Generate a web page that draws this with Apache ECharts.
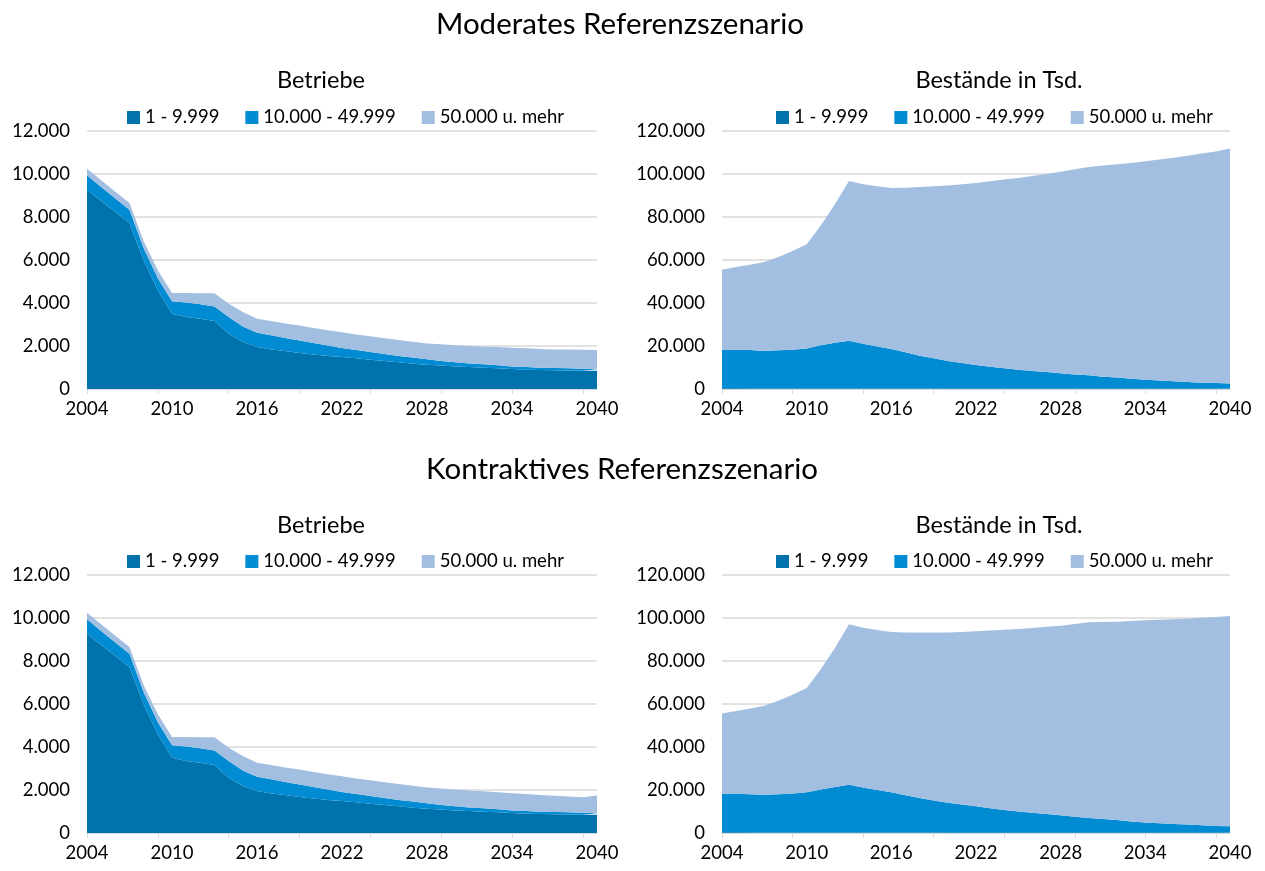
<!DOCTYPE html>
<html>
<head>
<meta charset="utf-8">
<title>Referenzszenarien</title>
<script src="https://cdn.jsdelivr.net/npm/echarts@6/dist/echarts.min.js"></script>
<style>
  html, body { margin: 0; padding: 0; background: #fff; }
  #chart { width: 1265px; height: 871px; }
</style>
</head>
<body>
<div id="chart"></div>
<script>
// Jahre 2004 - 2040
var years = [];
for (var y = 2004; y <= 2040; y++) years.push(String(y));

var seriesNames = ['1 - 9.999', '10.000 - 49.999', '50.000 u. mehr'];
var yTicksBetriebe = [0, 2000, 4000, 6000, 8000, 10000, 12000];
var yTicksBestand = [0, 20000, 40000, 60000, 80000, 100000, 120000];

// Moderates Szenario - Betriebe
var modBetriebeKlein = [9270, 8750, 8230, 7720, 5980, 4590, 3500, 3350, 3270, 3160, 2570, 2190, 1950, 1840, 1770, 1670, 1600, 1530, 1490, 1430, 1360, 1300, 1240, 1180, 1130, 1090, 1050, 1020, 990, 960, 930, 900, 880, 870, 860, 850, 850];
var modBetriebeMittel = [670, 650, 630, 620, 570, 560, 580, 670, 670, 680, 780, 720, 670, 660, 600, 590, 540, 490, 420, 380, 360, 330, 290, 280, 250, 210, 190, 170, 160, 140, 120, 120, 110, 110, 100, 90, 70];
var modBetriebeGross = [310, 310, 310, 310, 320, 370, 390, 450, 510, 610, 620, 670, 650, 660, 680, 690, 700, 710, 730, 730, 730, 730, 750, 740, 740, 780, 790, 810, 820, 850, 870, 870, 870, 860, 880, 880, 890];

// Moderates Szenario - Bestaende in Tsd.
var modBestandKlein = [300, 300, 290, 280, 280, 270, 260, 250, 250, 240, 230, 220, 210, 200, 190, 180, 170, 160, 150, 150, 140, 140, 130, 130, 120, 120, 110, 110, 100, 100, 90, 90, 80, 80, 70, 70, 60];
var modBestandMittel = [18000, 18000, 17810, 17420, 17720, 18030, 18540, 20050, 21250, 22260, 20870, 19580, 18390, 16900, 15310, 14120, 12830, 11940, 11050, 10250, 9460, 8860, 8270, 7770, 7180, 6680, 6290, 5590, 5200, 4700, 4210, 3810, 3520, 3220, 2830, 2730, 2540];
var modBestandGross = [37200, 38400, 39700, 41400, 43400, 45900, 48500, 55800, 64400, 74200, 74100, 74500, 74900, 76500, 78500, 80000, 81700, 83100, 84600, 86200, 87800, 89100, 90700, 92100, 93800, 95400, 96900, 98200, 99200, 100300, 101600, 102800, 104000, 105200, 106600, 107700, 109300];

// Kontraktives Szenario - Betriebe
var konBetriebeKlein = [9270, 8750, 8230, 7720, 5980, 4590, 3500, 3350, 3270, 3160, 2570, 2190, 1950, 1840, 1770, 1670, 1600, 1530, 1490, 1430, 1360, 1300, 1240, 1180, 1130, 1090, 1050, 1020, 990, 960, 930, 900, 880, 870, 860, 850, 850];
var konBetriebeMittel = [670, 650, 630, 620, 570, 560, 580, 670, 670, 680, 780, 720, 670, 660, 600, 590, 540, 490, 420, 380, 360, 330, 290, 280, 250, 210, 190, 170, 160, 140, 120, 120, 110, 110, 100, 90, 70];
var konBetriebeGross = [310, 310, 310, 310, 320, 370, 390, 450, 510, 610, 620, 670, 650, 660, 680, 690, 700, 710, 730, 730, 730, 730, 750, 740, 740, 770, 780, 790, 790, 790, 800, 790, 780, 750, 740, 720, 820];

// Kontraktives Szenario - Bestaende in Tsd.
var konBestandKlein = [300, 300, 290, 280, 280, 270, 260, 250, 250, 240, 230, 220, 210, 200, 190, 180, 170, 160, 150, 150, 140, 140, 130, 130, 120, 120, 110, 110, 100, 100, 90, 90, 80, 80, 70, 70, 60];
var konBestandMittel = [17900, 17900, 17710, 17520, 17720, 18130, 18640, 19950, 21150, 22160, 20970, 19780, 18690, 17400, 16110, 14920, 13930, 13040, 12250, 11350, 10560, 9860, 9270, 8670, 8080, 7480, 6890, 6390, 5900, 5300, 4810, 4410, 4120, 3820, 3530, 3230, 3040];
var konBestandGross = [37400, 38600, 39900, 41400, 43500, 45900, 48600, 56000, 64600, 74700, 74300, 74400, 74600, 75700, 76900, 78100, 79200, 80300, 81400, 82700, 83800, 84900, 86000, 87100, 88200, 89600, 91000, 91600, 92300, 93200, 94000, 94700, 95200, 95800, 96500, 97200, 97800];

var colors = ['#0072AC', '#008BD2', '#A2BFE2'];
var FONT = 'Lato';

function fmt(v) {
  return String(v).replace(/\B(?=(\d{3})+(?!\d))/g, '.');
}

// Anordnung der vier Diagramme
var grids = [
  { left: 87, top: 131, width: 510, height: 258 },
  { left: 722, top: 131, width: 508, height: 258 },
  { left: 87, top: 575, width: 510, height: 258 },
  { left: 722, top: 575, width: 508, height: 258 }
];
var ticks = [yTicksBetriebe, yTicksBestand, yTicksBetriebe, yTicksBestand];
var data = [
  [modBetriebeKlein, modBetriebeMittel, modBetriebeGross],
  [modBestandKlein, modBestandMittel, modBestandGross],
  [konBetriebeKlein, konBetriebeMittel, konBetriebeGross],
  [konBestandKlein, konBestandMittel, konBestandGross]
];

var xAxes = [], yAxes = [], series = [], legends = [];
grids.forEach(function (g, i) {
  xAxes.push({
    type: 'category', gridIndex: i, data: years, boundaryGap: false,
    axisLine: { lineStyle: { color: '#D9D9D9', width: 1 } },
    axisTick: { interval: 4, length: 5, lineStyle: { color: '#D9D9D9' } },
    axisLabel: { interval: 5, fontSize: 18.5, color: '#000', margin: 11, fontFamily: FONT }
  });
  var t = ticks[i];
  yAxes.push({
    type: 'value', gridIndex: i, min: t[0], max: t[t.length - 1], interval: t[1] - t[0],
    axisLine: { show: false }, axisTick: { show: false },
    splitLine: { lineStyle: { color: '#D9D9D9', width: 1.5 } },
    axisLabel: { fontSize: 18.5, color: '#000', margin: 17, fontFamily: FONT, formatter: fmt }
  });
  data[i].forEach(function (arr, k) {
    series.push({
      name: seriesNames[k], type: 'line', xAxisIndex: i, yAxisIndex: i,
      stack: 'st' + i, data: arr, symbol: 'none', showSymbol: false,
      lineStyle: { width: 0 }, color: colors[k],
      areaStyle: { color: colors[k], opacity: 1 },
      silent: true
    });
  });
  legends.push({
    data: seriesNames, top: g.top - 28, left: i % 2 === 0 ? 122 : 771,
    itemWidth: 13, itemHeight: 13, itemGap: 26, icon: 'rect',
    textStyle: { fontSize: 18.5, color: '#000', fontFamily: FONT }
  });
});

var chart = echarts.init(document.getElementById('chart'));
chart.setOption({
  animation: false,
  textStyle: { fontFamily: FONT },
  title: [
    { text: 'Moderates Referenzszenario', left: 615, top: 4, textAlign: 'center',
      textStyle: { fontSize: 29.5, fontWeight: 'normal', color: '#000', fontFamily: FONT } },
    { text: 'Kontraktives Referenzszenario', left: 617, top: 449, textAlign: 'center',
      textStyle: { fontSize: 29.5, fontWeight: 'normal', color: '#000', fontFamily: FONT } },
    { text: 'Betriebe', left: 316, top: 63, textAlign: 'center',
      textStyle: { fontSize: 23.5, fontWeight: 'normal', color: '#000', fontFamily: FONT } },
    { text: 'Bestände in Tsd.', left: 994, top: 63, textAlign: 'center',
      textStyle: { fontSize: 23.5, fontWeight: 'normal', color: '#000', fontFamily: FONT } },
    { text: 'Betriebe', left: 316, top: 508, textAlign: 'center',
      textStyle: { fontSize: 23.5, fontWeight: 'normal', color: '#000', fontFamily: FONT } },
    { text: 'Bestände in Tsd.', left: 994, top: 508, textAlign: 'center',
      textStyle: { fontSize: 23.5, fontWeight: 'normal', color: '#000', fontFamily: FONT } }
  ],
  legend: legends,
  grid: grids,
  xAxis: xAxes,
  yAxis: yAxes,
  series: series
});
window.addEventListener('resize', chart.resize);
</script>
</body>
</html>
